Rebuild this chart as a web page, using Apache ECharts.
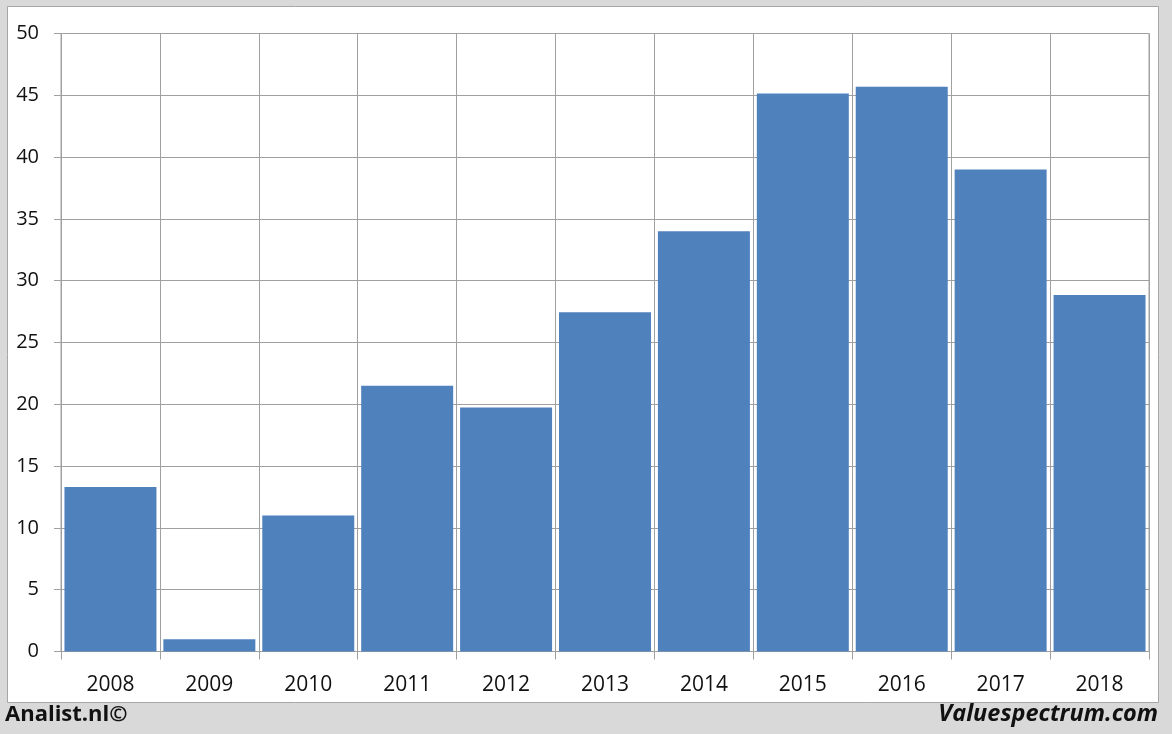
<!DOCTYPE html>
<html><head><meta charset="utf-8">
<script src="https://cdn.jsdelivr.net/npm/echarts@6/dist/echarts.min.js"></script>
<style>html,body{margin:0;padding:0;background:#d9d9d9;}#c{width:1172px;height:734px;}</style>
</head><body><div id="c"></div>
<script>
const years = ['2008','2009','2010','2011','2012','2013','2014','2015','2016','2017','2018'];
const values = [13.3, 1.0, 11.0, 21.5, 19.75, 27.45, 34.0, 45.15, 45.7, 39.0, 28.85];
const yTicks = [0, 5, 10, 15, 20, 25, 30, 35, 40, 45, 50];

const chart = echarts.init(document.getElementById('c'), null, {renderer:'canvas'});
const font = '"Open Sans", "Noto Sans", sans-serif';
chart.setOption({
  backgroundColor: '#d9d9d9',
  animation: false,
  graphic: [
    {type:'rect', z:-10, shape:{x:7.5,y:6.5,width:1151,height:696}, style:{fill:'#ffffff', stroke:'#a6a6a6', lineWidth:1}},
    {type:'text', left:5, top:704, style:{text:'Analist.nl©', font:'bold 22px "Open Sans", sans-serif', fill:'#111'}},
    {type:'text', right:14, top:703, style:{text:'Valuespectrum.com', font:'italic bold 23.5px "Open Sans", sans-serif', fill:'#111'}}
  ],
  grid: {left:61, right:23, top:33.5, bottom:82.5, containLabel:false, show:true, borderColor:'#a0a0a0', borderWidth:1},
  xAxis: {
    type:'category', data: years, boundaryGap:true,
    axisLine:{show:true, lineStyle:{color:'#a0a0a0', width:1}},
    axisTick:{show:true, length:8, alignWithLabel:false, lineStyle:{color:'#a0a0a0'}},
    splitLine:{show:true, lineStyle:{color:'#a0a0a0', width:1}},
    axisLabel:{color:'#111', fontSize:21, fontFamily:font, margin:23}
  },
  yAxis: {
    type:'value', min:0, max:50, interval:5,
    axisLine:{show:false},
    axisTick:{show:true, length:7, lineStyle:{color:'#a0a0a0'}},
    splitLine:{show:true, lineStyle:{color:'#a0a0a0', width:1}},
    axisLabel:{color:'#111', fontSize:20, fontFamily:font, margin:22,
      formatter: v => yTicks.includes(v) ? String(v) : ''}
  },
  series: [{
    type:'bar', data: values, barCategoryGap:'7%',
    itemStyle:{color:'#4f81bd', borderColor:'#ffffff', borderWidth:0}
  }]
});
</script></body></html>
